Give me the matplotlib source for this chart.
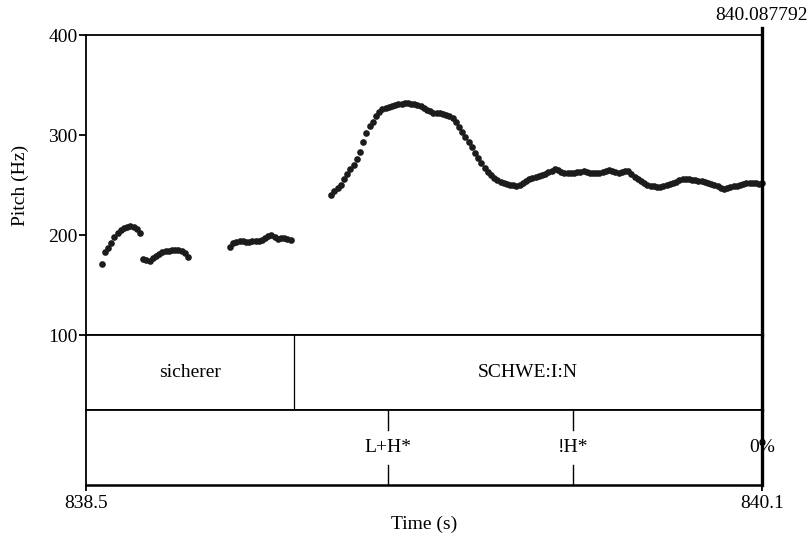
import numpy as np
import matplotlib
matplotlib.use("Agg")
import matplotlib.pyplot as plt

plt.rcParams['font.family'] = ['Liberation Serif', 'DejaVu Serif']

# ---------------- data ----------------
t_start = 838.5
t_end = 840.087792
frame_step = 0.0075  # Praat pitch frame step (s)

seg_starts = [838.5369, 838.6346, 838.8382, 839.0761]
seg1 = [171, 183, 187, 192, 198, 202, 205, 207, 208.5, 209, 208, 206, 202]
seg2 = [176, 175, 174, 177, 179, 181, 183, 184, 184.5, 185, 185, 185, 184.5, 182, 178]
seg3 = [188, 192, 193, 194, 194, 193.5, 193.5, 194, 194, 194.5, 195.5, 197, 199, 200.5,
        198.5, 196, 197, 197.5, 196, 195]
seg4 = [240, 244, 247, 250, 256, 261, 266, 270, 276, 283, 293, 302, 309, 313, 319, 323,
        326, 327.5, 328.5, 329.5, 330, 331, 331.5, 331.7, 331.7, 331.5, 331, 330.5, 329,
        327.5, 325.5, 324, 322.5, 322, 322, 321.5, 320.5, 319, 317, 313, 308, 303, 298,
        293, 288, 282, 277, 272, 267, 263, 260, 257, 255, 253, 252, 251, 250.5, 250,
        249.5, 250.5, 252, 254, 256, 257, 258, 259.5, 260.5, 261.5, 263, 264.5, 266, 265,
        263, 262.5, 262.5, 262.5, 262.5, 263, 263.5, 264, 263.5, 262.5, 262, 262, 262.5,
        263.5, 264.5, 265, 264.5, 263, 262.5, 263.5, 264.5, 264.5, 261.5, 258.5, 256, 254,
        252, 250.5, 249.5, 249, 248.5, 248.5, 249, 250, 251, 252, 253.5, 255, 256, 256.5,
        256, 255.5, 255, 254.5, 254, 253, 252.5, 251.5, 250.5, 249, 247, 246, 247, 248,
        249, 249.5, 250, 251, 252, 252, 252, 252, 251.5, 252]
segments = [seg1, seg2, seg3, seg4]

word_bounds = [838.5, 838.9885, 840.087792]
word_labels = ["sicherer", "SCHWE:I:N"]
tone_times = [839.2093, 839.6437, 840.087792]
tone_labels = ["L+H*", "!H*", "0%"]

y_ticks = [100, 200, 300, 400]
x_tick_vals = [838.5, 840.087792]
x_tick_labels = ["838.5", "840.1"]
cursor_label = "840.087792"

# ---------------- figure ----------------
W, H = 808, 536
fig = plt.figure(figsize=(W / 100, H / 100), dpi=100)

def fx(px):
    return px / W

def fy(py):
    return 1 - py / H

L, R = 86, 762
ax = fig.add_axes([fx(L), fy(335), fx(R - L), (335 - 35) / H])
ax1 = fig.add_axes([fx(L), fy(410), fx(R - L), 75 / H])
ax2 = fig.add_axes([fx(L), fy(485), fx(R - L), 75 / H])

fs = 14
lw = 1.3
col = '#000000'

# pitch axes
for vals, ts in zip(segments, seg_starts):
    tt = ts + frame_step * np.arange(len(vals))
    ax.plot(tt, vals, 'o', color='#1c1c1c', markersize=4.8, markeredgewidth=0,
            clip_on=False)
ax.set_xlim(t_start, t_end)
ax.set_ylim(100, 400)
ax.set_yticks(y_ticks)
ax.set_yticklabels([str(v) for v in y_ticks], fontsize=fs)
ax.tick_params(axis='y', direction='out', length=5, width=lw, pad=1)
ax.set_xticks([])
for s in ['left', 'top', 'bottom']:
    ax.spines[s].set_linewidth(lw)
ax.spines['right'].set_visible(False)
ax.axvline(t_end, ymin=0, ymax=1.025, color=col, lw=2.4, clip_on=False)
ax.text(t_end, 1.035, cursor_label, transform=ax.get_xaxis_transform(),
        ha='center', va='bottom', fontsize=fs)

# word tier
ax1.set_xlim(t_start, t_end)
ax1.set_ylim(0, 1)
ax1.set_xticks([])
ax1.set_yticks([])
for s in ['left', 'top', 'bottom']:
    ax1.spines[s].set_linewidth(lw)
ax1.spines['right'].set_visible(False)
ax1.axvline(t_end, color=col, lw=2.4, clip_on=False)
for b in word_bounds[1:-1]:
    ax1.axvline(b, color=col, lw=0.9)
for i, lab in enumerate(word_labels):
    ax1.text((word_bounds[i] + word_bounds[i + 1]) / 2, 0.5, lab,
             ha='center', va='center', fontsize=fs)

# tone tier
ax2.set_xlim(t_start, t_end)
ax2.set_ylim(0, 1)
ax2.set_yticks([])
for s in ['left', 'top', 'bottom']:
    ax2.spines[s].set_linewidth(lw)
ax2.spines['bottom'].set_linewidth(1.8)
ax2.spines['right'].set_visible(False)
for t, lab in zip(tone_times, tone_labels):
    ax2.plot([t, t], [1, 0.73], color=col, lw=1.0)
    ax2.plot([t, t], [0, 0.27], color=col, lw=1.0)
    ax2.text(t, 0.5, lab, ha='center', va='center', fontsize=fs)
ax2.axvline(t_end, color=col, lw=2.4, clip_on=False, zorder=5)
ax2.set_xticks(x_tick_vals)
ax2.set_xticklabels(x_tick_labels, fontsize=fs)
ax2.tick_params(axis='x', direction='out', length=4, width=lw, pad=3)

fig.text(fx(20), fy(185), "Pitch (Hz)", rotation=90, ha='center', va='center',
         fontsize=fs)
fig.text(fx(424), fy(524), "Time (s)", ha='center', va='center', fontsize=fs)

fig.savefig("out.png", dpi=100)
